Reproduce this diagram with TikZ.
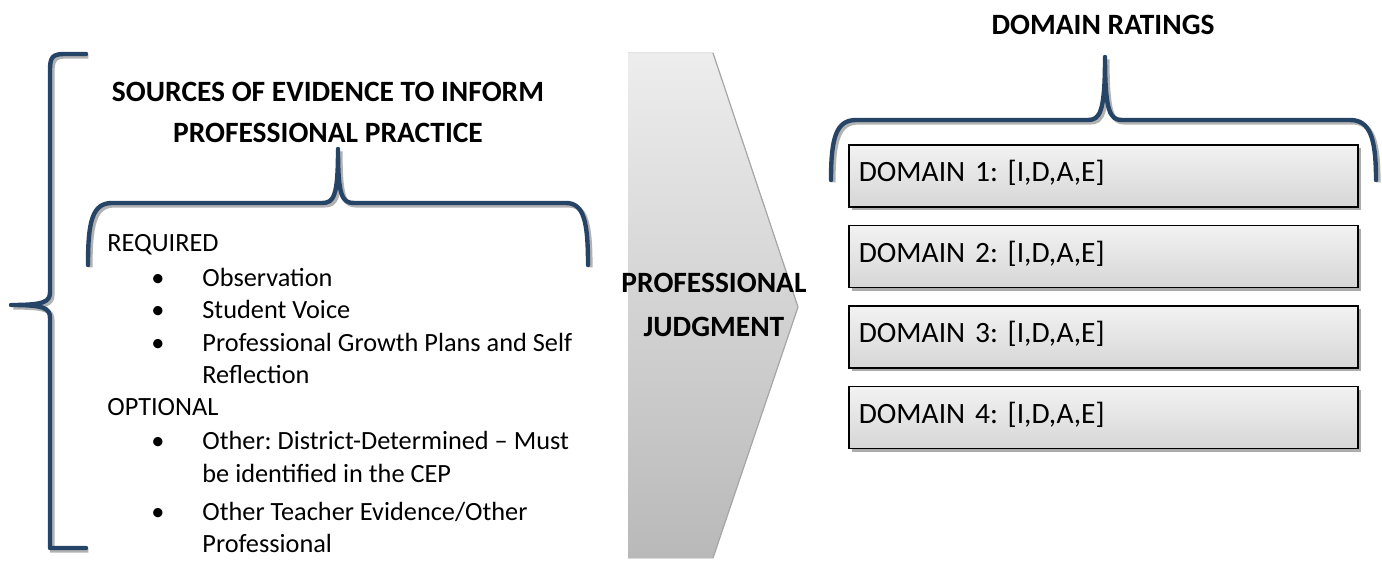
\documentclass[tikz,border=0pt]{standalone}
\usepackage{fontspec}
\setmainfont{Carlito}
\usetikzlibrary{positioning}
\usetikzlibrary{shadows}

\definecolor{bracenavy}{HTML}{264466}
\tikzset{
	brace/.style={draw=bracenavy, line width=2.2pt, line cap=round, line join=round,
		preaction={draw=gray!60, line width=2.2pt, transform canvas={shift={(1.2pt,-1.2pt)}}}},
	domainbox/.style={draw=black, line width=0.8pt, top color=gray!10, bottom color=gray!32,
		text width=244.5bp, inner xsep=5bp, inner ysep=3.5bp, text height=15bp, text depth=9bp,
		align=left, font=\fontsize{14.8}{17}\selectfont,
		drop shadow={shadow xshift=1.6pt, shadow yshift=-1.6pt, fill=gray!65, opacity=1}},
	heading/.style={font=\fontsize{14.8}{17}\selectfont\bfseries, anchor=base},
	item/.style={anchor=base west, inner sep=0pt},
}

\begin{document}
\frenchspacing
\begin{tikzpicture}[x=0.5bp, y=-0.5bp, font=\fontsize{13.2}{16}\selectfont]
	\useasboundingbox (0,0) rectangle (1382,561);
	% left brace
	\draw[brace] (86,54) -- (64,54) .. controls (52,54) and (50,58) .. (50,70) -- (50,292)
		.. controls (50,302) and (44,305) .. (11,305)
		.. controls (44,305) and (50,308) .. (50,318) -- (50,548) -- (86,548);
	% judgment chevron
	\fill[top color=gray!14, bottom color=gray!55] (628,53) -- (713,53) -- (798,307) -- (713,558) -- (628,558) -- cycle;
	\draw[gray!70, line width=0.6pt] (713,53) -- (798,307) -- (713,558);
	\node[heading] (pj1) at (714,292) {PROFESSIONAL};
	\node[heading] (pj2) at (714,336) {JUDGMENT};
	% sources
	\node[heading] (src1) at (328,102) {SOURCES OF EVIDENCE TO INFORM};
	\node[heading] (src2) at (328,143) {PROFESSIONAL PRACTICE};
	\draw[brace] (88,265) .. controls (88,222) and (92,203) .. (112,203) -- (322,203)
		.. controls (334,203) and (338,196) .. (338,149)
		.. controls (338,196) and (342,203) .. (354,203) -- (566,203)
		.. controls (584,203) and (588,222) .. (588,265);
	\node[item] (req) at (107,252) {REQUIRED};
	\node[item] (opt) at (107,415) {OPTIONAL};
	\foreach \yy in {286, 318, 351, 449, 520}
		\node[anchor=base] at (158,\yy) {•};
	\foreach \yy/\txt in {286/Observation, 318/Student Voice, 351/Professional Growth Plans and Self,
		383/Reflection, 449/Other: District-Determined – Must, 482/be identified in the CEP,
		520/{Other Teacher Evidence/Other}, 552/Professional}
		\node[item] at (202,\yy) {\txt};
	% domain ratings
	\node[heading] (dr) at (1103,35) {DOMAIN RATINGS};
	\draw[brace] (831,180) .. controls (831,138) and (836,120) .. (856,120) -- (1088,120)
		.. controls (1100,120) and (1105,112) .. (1105,57)
		.. controls (1105,112) and (1110,120) .. (1122,120) -- (1350,120)
		.. controls (1370,120) and (1376,138) .. (1376,180);
	\node[domainbox, anchor=north west] (d1) at (848,144) {DOMAIN 1: [I,D,A,E]};
	\node[domainbox, below=8.5bp of d1] (d2) {DOMAIN 2: [I,D,A,E]};
	\node[domainbox, below=8.5bp of d2] (d3) {DOMAIN 3: [I,D,A,E]};
	\node[domainbox, below=8.5bp of d3] (d4) {DOMAIN 4: [I,D,A,E]};
\end{tikzpicture}
\end{document}
